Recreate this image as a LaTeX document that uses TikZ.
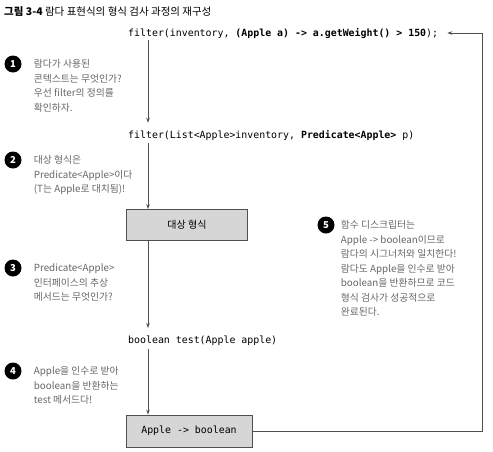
\documentclass[tikz,border=0pt]{standalone}
\usepackage{fontspec}
\setmainfont{Noto Sans CJK KR}
\setmonofont{DejaVu Sans Mono}
\usepackage{xcolor}
\usetikzlibrary{arrows.meta, positioning}
\definecolor{linegray}{HTML}{505050}
\definecolor{notegray}{HTML}{666666}
\definecolor{boxgray}{HTML}{D6D6D6}
\tikzset{
  codeline/.style={inner sep=0pt, anchor=west, font=\ttfamily\fontsize{9.9}{12}\selectfont},
  typebox/.style={rectangle, draw=linegray, line width=0.8pt, fill=boxgray, minimum height=31pt, inner sep=0pt},
  note/.style={inner sep=0pt, anchor=north west, align=left, text=notegray, font=\fontsize{9.8}{14.5}\selectfont},
  numdot/.style={circle, fill=black, text=white, inner sep=0pt, minimum size=17pt, font=\bfseries\fontsize{9.5}{9.5}\selectfont},
  arrow/.style={-{Stealth[length=5pt, width=3.5pt]}, linegray, line width=0.6pt},
}

\begin{document}
\begin{tikzpicture}[x=1pt, y=-1pt]
    \useasboundingbox (0,0) rectangle (493,451);
    \node[anchor=west, inner sep=0pt, font=\fontsize{10.5}{12}\selectfont] (title) at (4,12) {\textbf{그림 3-4} 람다 표현식의 형식 검사 과정의 재구성};

    % code lines and boxes down the middle
    \coordinate (col) at (148,0);
    \coordinate (rt) at (482,0);
    \node[codeline] (lam) at (128,33) {filter(inventory, \textbf{(Apple a) -> a.getWeight() > 150});};
    \node[codeline] (sig) at (128,135) {filter(List<Apple>inventory, \textbf{Predicate<Apple>} p)};
    \node[typebox, minimum width=121pt, font=\fontsize{10}{12}\selectfont] (tbox) at (187,225) {대상 형식};
    \node[codeline] (test) at (128,341) {boolean test(Apple apple)};
    \node[typebox, minimum width=126pt, minimum height=32pt, font=\ttfamily\fontsize{9.9}{12}\selectfont] (fnbox) at (189,431) {Apple -> boolean};

    \draw[arrow, shorten <=2pt, shorten >=7pt] (lam.south -| col) -- (sig.north -| col);
    \draw[arrow, shorten <=3pt] (sig.south -| col) -- (tbox.north -| col);
    \draw[arrow, shorten >=8pt] (tbox.south -| col) -- (test.north -| col);
    \draw[arrow, shorten <=3pt] (test.south -| col) -- (fnbox.north -| col);
    \draw[arrow] (fnbox.east) -- (fnbox.east -| rt) -- (lam.east -| rt) -- ([xshift=9pt]lam.east);

    % numbered notes
    \node[numdot] (d1) at (13,64) {1};
    \node[note] (n1) at ([xshift=12pt, yshift=4.5pt]d1.east) {람다가 사용된\\콘텍스트는 무엇인가?\\우선 filter의 정의를\\확인하자.};
    \node[numdot] (d2) at (13,160) {2};
    \node[note] (n2) at ([xshift=12pt, yshift=4.5pt]d2.east) {대상 형식은\\Predicate<Apple>이다\\(T는 Apple로 대치됨)!};
    \node[numdot] (d3) at (13,268) {3};
    \node[note] (n3) at ([xshift=12pt, yshift=4.5pt]d3.east) {Predicate<Apple>\\인터페이스의 추상\\메서드는 무엇인가?};
    \node[numdot] (d4) at (13,371) {4};
    \node[note] (n4) at ([xshift=12pt, yshift=4.5pt]d4.east) {Apple을 인수로 받아\\boolean을 반환하는\\test 메서드다!};
    \node[numdot] (d5) at (326,225) {5};
    \node[note] (n5) at ([xshift=6pt, yshift=4.5pt]d5.east) {함수 디스크립터는\\Apple -> boolean이므로\\람다의 시그너처와 일치한다!\\람다도 Apple을 인수로 받아\\boolean을 반환하므로 코드\\형식 검사가 성공적으로\\완료된다.};
\end{tikzpicture}
\end{document}
